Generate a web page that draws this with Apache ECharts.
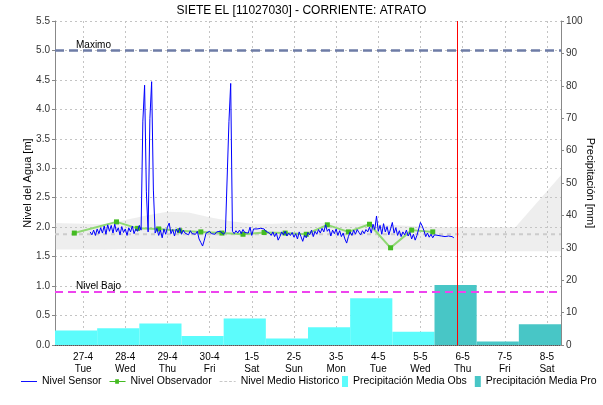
<!DOCTYPE html>
<html><head><meta charset="utf-8">
<script src="https://cdn.jsdelivr.net/npm/echarts@6/dist/echarts.min.js"></script>
<style>html,body{margin:0;padding:0;background:#fff}#c{width:603px;height:405px}</style>
</head><body><div id="c"></div>
<script>
const chartTitle = 'SIETE EL [11027030] - CORRIENTE: ATRATO';
const dayLabels = ['27-4\nTue','28-4\nWed','29-4\nThu','30-4\nFri','1-5\nSat','2-5\nSun','3-5\nMon','4-5\nTue','5-5\nWed','6-5\nThu','7-5\nFri','8-5\nSat'];
const dayTickHours = [0,24,48,72,96,120,144,168,192,216,240,264];
const axisStartHour = -16, axisEndHour = 272;
// hourly sensor readings starting at hour 4 (27-4 04:00)
const sensorStartHour = 4;
const sensorLevels = [
1.92,1.87,1.95,1.86,1.97,1.89,1.99,1.90,2.02,1.88,2.04,1.93,
2.03,1.90,2.05,1.92,1.99,1.87,2.01,1.91,1.97,1.86,1.99,1.92,
2.02,1.89,1.97,1.93,2.03,1.95,3.80,4.41,2.60,1.92,3.84,4.47,
2.63,1.90,1.98,1.86,1.95,1.82,1.97,1.88,2.00,2.07,1.89,1.96,
1.85,1.97,1.91,1.99,1.88,1.95,1.90,1.93,1.87,1.94,1.89,1.92,
1.88,1.93,1.80,1.74,1.68,1.78,1.90,1.87,1.93,1.89,1.91,1.88,
1.92,1.89,1.93,1.90,1.88,1.92,1.90,3.79,4.44,1.93,1.89,1.94,
1.90,1.95,1.89,1.96,1.91,1.94,1.90,2.00,1.86,1.97,1.94,1.97,
1.96,1.98,1.95,1.97,1.93,1.96,1.90,1.86,1.92,1.84,1.90,1.78,
1.84,1.92,1.87,1.93,1.85,1.90,1.86,1.91,1.83,1.89,1.80,1.92,
1.84,1.76,1.86,1.82,1.91,1.87,1.95,1.84,1.93,1.88,1.96,1.90,
1.98,1.92,2.04,1.93,1.97,1.85,1.95,1.89,1.97,1.86,1.94,1.84,
1.90,1.80,1.73,1.84,1.92,1.86,1.95,1.88,1.96,1.91,1.87,1.94,
1.89,1.96,1.92,2.00,1.90,2.05,1.96,2.19,1.93,2.03,1.88,2.06,
1.92,2.01,1.87,1.97,2.08,1.90,1.99,1.86,1.94,1.84,1.92,1.87,
1.95,1.85,1.91,1.80,1.88,1.78,1.86,1.97,2.08,2.02,1.94,1.84,
1.90,1.83,1.88,1.82,1.87,1.84,1.86,1.83,1.85,1.87,1.84,1.86,
1.85,1.88,1.84,1.82];
const obsHours  = [-5,19,31,43,55,67,79,91,103,115,127,139,151,163,175,187,199];
const obsLevels = [1.90,2.09,1.98,1.97,1.94,1.92,1.90,1.88,1.91,1.90,1.88,2.04,1.92,2.05,1.65,1.95,1.92];
const histHours = [-16,0,12,24,36,48,60,72,84,96,108,120,144,168,192,204,216,246,272];
const histLow   = [1.62,1.62,1.62,1.63,1.63,1.63,1.63,1.63,1.62,1.62,1.62,1.62,1.62,1.62,1.62,1.60,1.59,1.59,1.59];
const histHigh  = [2.07,2.06,2.05,2.12,2.20,2.26,2.25,2.17,2.10,2.06,2.06,2.07,2.07,2.05,2.01,2.00,2.00,2.00,2.88];
const histMeanLevel = 1.88;
const precipWindows = ['26-4','27-4','28-4','29-4','30-4','1-5','2-5','3-5','4-5','5-5','6-5','7-5'];
const precipObs = [4.5,5.2,6.6,2.8,8.2,2.0,5.5,14.4,4.1,'-','-','-'];
const precipPro = ['-','-','-','-','-','-','-','-','-',18.5,1.1,6.4];
const maxLevel = 5.0, lowLevel = 0.91, nowHour = 213;

const FONT = 'Liberation Sans, Arial, sans-serif';
const sensorData = sensorLevels.map((v, i) => [sensorStartHour + i, v]);
const obsData = obsHours.map((h, i) => [h, obsLevels[i]]);
const legendText = {fontSize: 10.5, color: '#000', fontFamily: FONT};

const chart = echarts.init(document.getElementById('c'), null, {renderer: 'canvas'});
chart.setOption({
  animation: false,
  backgroundColor: '#fff',
  textStyle: {fontFamily: FONT},
  title: {text: chartTitle, left: 'center', top: 0, textStyle: {fontSize: 12, fontWeight: 'normal', color: '#000', fontFamily: FONT}},
  grid: {left: 55, right: 42, top: 21, bottom: 60, outerBoundsMode: 'none', containLabel: false},
  legend: [
    {left: 21, top: 376, itemWidth: 16, itemHeight: 11, itemGap: 8, padding: 0, textStyle: legendText,
     data: [
      {name: 'Nivel Sensor', icon: 'path://M0,5H17V6H0Z', itemStyle: {color: '#0000ff'}},
      {name: 'Nivel Observador', icon: 'path://M0,5H6V3H10V5H17V6H10V8H6V6H0Z', itemStyle: {color: '#44bb22'}},
      {name: 'Nivel Medio Historico', icon: 'path://M0,5H3V6H0Z M5,5H8V6H5Z M10,5H13V6H10Z M15,5H17V6H15Z', itemStyle: {color: '#c8c8c8'}}
     ]},
    {left: 342, top: 376, itemWidth: 6, itemHeight: 11, itemGap: 8, padding: 0, textStyle: legendText,
     data: [
      {name: 'Precipitación Media Obs', icon: 'rect'},
      {name: 'Precipitación Media Pro', icon: 'rect'}
     ]}
  ],
  xAxis: [
    {type: 'value', min: axisStartHour, max: axisEndHour,
     axisLine: {show: true, onZero: false, lineStyle: {color: '#555', type: 'dotted'}},
     axisTick: {show: false, customValues: dayTickHours},
     axisLabel: {customValues: dayTickHours, color: '#000', fontSize: 10, lineHeight: 12, margin: 6,
       formatter: v => dayLabels[Math.round(v / 24)] || ''},
     splitLine: {show: true, lineStyle: {color: '#c4c4c4', type: [2, 3], width: 1}}},
    {type: 'category', data: precipWindows, show: false, boundaryGap: true}
  ],
  yAxis: [
    {type: 'value', min: 0, max: 5.5, interval: 0.5, name: 'Nivel del Agua [m]', nameLocation: 'middle', nameGap: 22,
     nameMoveOverlap: false,
     nameTextStyle: {fontSize: 11, color: '#000', fontFamily: FONT},
     axisLine: {show: true, onZero: false, lineStyle: {color: '#888'}},
     axisTick: {show: true, length: 3, lineStyle: {color: '#888'}},
     axisLabel: {color: '#333', fontSize: 10, margin: 5, formatter: v => v.toFixed(1)},
     splitLine: {show: true, lineStyle: {color: '#c4c4c4', type: [2, 3], width: 1}}},
    {type: 'value', min: 0, max: 100, interval: 10, name: 'Precipitación [mm]', nameLocation: 'middle', nameGap: 24, nameRotate: -90,
     nameMoveOverlap: false,
     nameTextStyle: {fontSize: 11, color: '#000', fontFamily: FONT},
     axisLine: {show: true, onZero: false, lineStyle: {color: '#888'}},
     axisTick: {show: true, length: 3, lineStyle: {color: '#888'}},
     axisLabel: {color: '#333', fontSize: 10, margin: 5},
     splitLine: {show: false}}
  ],
  series: [
    {name: 'Precipitación Media Obs', type: 'bar', xAxisIndex: 1, yAxisIndex: 1, data: precipObs,
     barWidth: '100%', barGap: '-100%', itemStyle: {color: '#5cfcfc'}, z: 1},
    {name: 'Precipitación Media Pro', type: 'bar', xAxisIndex: 1, yAxisIndex: 1, data: precipPro,
     barWidth: '100%', barGap: '-100%', itemStyle: {color: '#48c6c6'}, z: 1},
    {name: 'histBand', type: 'custom', data: [[0, 2]], silent: true, z: 2, clip: true,
     renderItem: (params, api) => {
       const top = histHours.map((h, i) => api.coord([h, histHigh[i]]));
       const bottom = histHours.map((h, i) => api.coord([h, histLow[i]])).reverse();
       return {type: 'polygon', shape: {points: top.concat(bottom)}, style: {fill: 'rgba(200,200,200,0.3)'}};
     }},
    {name: 'Nivel Medio Historico', type: 'line', data: [[axisStartHour, histMeanLevel], [axisEndHour, histMeanLevel]],
     symbol: 'none', lineStyle: {color: '#cccccc', width: 2, type: [4, 4]}, itemStyle: {color: '#c8c8c8'}, z: 3},
    {name: 'Nivel Observador', type: 'line', data: obsData, symbol: 'rect', symbolSize: 5, showSymbol: true,
     lineStyle: {color: '#8fd873', width: 2}, itemStyle: {color: '#44bb22'}, z: 4},
    {name: 'Nivel Sensor', type: 'line', data: sensorData, symbol: 'none',
     lineStyle: {color: '#0000ff', width: 1}, itemStyle: {color: '#0000ff'}, z: 5,
     markLine: {silent: true, symbol: 'none', animation: false, data: [
       {yAxis: maxLevel, lineStyle: {color: '#6e7ca6', width: 2.5, type: [9, 5]},
        label: {show: true, formatter: 'Maximo', position: 'insideStartTop', distance: 0, padding: [0, 0, 0, 21], color: '#000', fontSize: 10}},
       {yAxis: lowLevel, lineStyle: {color: '#ee44ee', width: 2, type: [8, 5]},
        label: {show: true, formatter: 'Nivel Bajo', position: 'insideStartTop', distance: 0, padding: [0, 0, 0, 21], color: '#000', fontSize: 10}},
       {xAxis: nowHour, lineStyle: {color: '#ff0000', width: 1, type: 'solid'}, label: {show: false}}
     ]}}
  ]
});
</script>
</body></html>
